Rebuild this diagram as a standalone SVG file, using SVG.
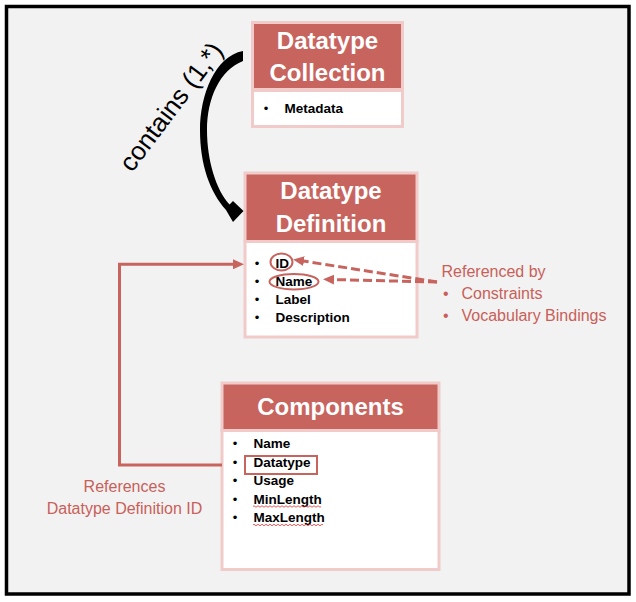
<svg xmlns="http://www.w3.org/2000/svg" width="636" height="602" viewBox="0 0 636 602">
<defs>
<style>
.hdr{fill:#C8645E;stroke:#F0CBC9;stroke-width:3}
.body{fill:#FFFFFF;stroke:#F0CBC9;stroke-width:3}
.ht{font-family:"Liberation Sans",Arial,sans-serif;font-weight:bold;font-size:24px;fill:#FFFFFF;text-anchor:middle}
.bt{font-family:"Liberation Sans",Arial,sans-serif;font-weight:bold;font-size:13.5px;fill:#000000}
.bul{font-family:"Liberation Sans",Arial,sans-serif;font-size:13px;fill:#000000;text-anchor:middle}
.at{font-family:"Liberation Sans",Arial,sans-serif;font-size:16px;fill:#C95F59}
.red{fill:none;stroke:#C8645E;stroke-width:2}
.sq{fill:none;stroke:#E03030;stroke-width:0.8}
</style>
<marker id="ah" markerUnits="userSpaceOnUse" markerWidth="12" markerHeight="10" refX="4" refY="5" orient="auto">
<path d="M0,0 L11,5 L0,10 z" fill="#C8645E"/>
</marker>
</defs>
<rect x="0" y="0" width="636" height="602" fill="#FFFFFF"/>
<rect x="6.5" y="6.5" width="622.5" height="587.5" fill="#F2F2F2" stroke="#000000" stroke-width="3.5"/>

<g id="datatype-collection">
<rect class="hdr" x="252.5" y="22.5" width="150" height="67"/>
<rect class="body" x="252.5" y="90.5" width="150" height="36"/>
<text class="ht" x="327.5" y="49">Datatype</text>
<text class="ht" x="327.5" y="81">Collection</text>
<text class="bul" x="266" y="113">•</text>
<text class="bt" x="284.5" y="113">Metadata</text>
</g>

<g id="datatype-definition">
<rect class="hdr" x="245" y="173" width="172" height="68.5"/>
<rect class="body" x="245" y="241.5" width="172" height="95.5"/>
<text class="ht" x="331" y="199">Datatype</text>
<text class="ht" x="331" y="232">Definition</text>
<text class="bul" x="257" y="268">•</text>
<text class="bul" x="257" y="286">•</text>
<text class="bul" x="257" y="304">•</text>
<text class="bul" x="257" y="322">•</text>
<text class="bt" x="275.5" y="268">ID</text>
<text class="bt" x="275.5" y="286">Name</text>
<text class="bt" x="275.5" y="304">Label</text>
<text class="bt" x="275.5" y="322">Description</text>
<ellipse class="red" cx="281.5" cy="262" rx="11" ry="8.5"/>
<ellipse class="red" cx="294" cy="281.7" rx="24.5" ry="7.7"/>
</g>

<g id="components">
<rect class="hdr" x="222" y="383" width="217" height="47.5"/>
<rect class="body" x="222" y="430.5" width="217" height="139"/>
<text class="ht" x="330.5" y="415">Components</text>
<text class="bul" x="235" y="448">•</text>
<text class="bul" x="235" y="467">•</text>
<text class="bul" x="235" y="485">•</text>
<text class="bul" x="235" y="504">•</text>
<text class="bul" x="235" y="522">•</text>
<text class="bt" x="253.5" y="448">Name</text>
<text class="bt" x="253.5" y="467">Datatype</text>
<text class="bt" x="253.5" y="485">Usage</text>
<text class="bt" x="253.5" y="504">MinLength</text>
<text class="bt" x="253.5" y="522">MaxLength</text>
<rect class="red" x="245" y="456" width="72" height="18"/>
<path class="sq" d="M253 506.5 q1 -1.5 2 0 t2 0 t2 0 t2 0 t2 0 t2 0 t2 0 t2 0 t2 0 t2 0 t2 0 t2 0 t2 0 t2 0 t2 0 t2 0 t2 0 t2 0 t2 0 t2 0 t2 0 t2 0 t2 0 t2 0 t2 0 t2 0 t2 0 t2 0 t2 0 t2 0 t2 0 t2 0 t2 0 t2 0"/>
<path class="sq" d="M253 525 q1 -1.5 2 0 t2 0 t2 0 t2 0 t2 0 t2 0 t2 0 t2 0 t2 0 t2 0 t2 0 t2 0 t2 0 t2 0 t2 0 t2 0 t2 0 t2 0 t2 0 t2 0 t2 0 t2 0 t2 0 t2 0 t2 0 t2 0 t2 0 t2 0 t2 0 t2 0 t2 0 t2 0 t2 0 t2 0 t2 0"/>
</g>

<g id="referenced-by-note">
<text class="at" x="441.5" y="277">Referenced by</text>
<text class="at" x="443" y="298.5">•</text>
<text class="at" x="461.5" y="298.5">Constraints</text>
<text class="at" x="443" y="321">•</text>
<text class="at" x="461.5" y="321">Vocabulary Bindings</text>
</g>

<g id="references-note">
<text class="at" x="124.5" y="492" text-anchor="middle">References</text>
<text class="at" x="124.5" y="513.5" text-anchor="middle">Datatype Definition ID</text>
</g>

<g id="connectors">
<path d="M 243 51 C 215 56 200 95 200 130 C 200 165 210 192 226 210 L 233 222 L 243.5 211 L 233 201 L 229.5 204.5 C 216 190 207 160 207 130 C 207 98 220 70 243 61 Z" fill="#000000"/>
<text x="178" y="112" transform="rotate(-53 178 112)" font-family="'Liberation Sans',Arial,sans-serif" font-size="26" fill="#000000" text-anchor="middle">contains (1,*)</text>
<path d="M 222 465 H 119.5 V 264.3 H 237" fill="none" stroke="#C8645E" stroke-width="3" marker-end="url(#ah)"/>
<path d="M 437 282 L 300 260.5" fill="none" stroke="#C8645E" stroke-width="3" stroke-dasharray="9,4" marker-end="url(#ah)"/>
<path d="M 437 282 L 330 279.5" fill="none" stroke="#C8645E" stroke-width="3" stroke-dasharray="9,4" marker-end="url(#ah)"/>
</g>
</svg>
